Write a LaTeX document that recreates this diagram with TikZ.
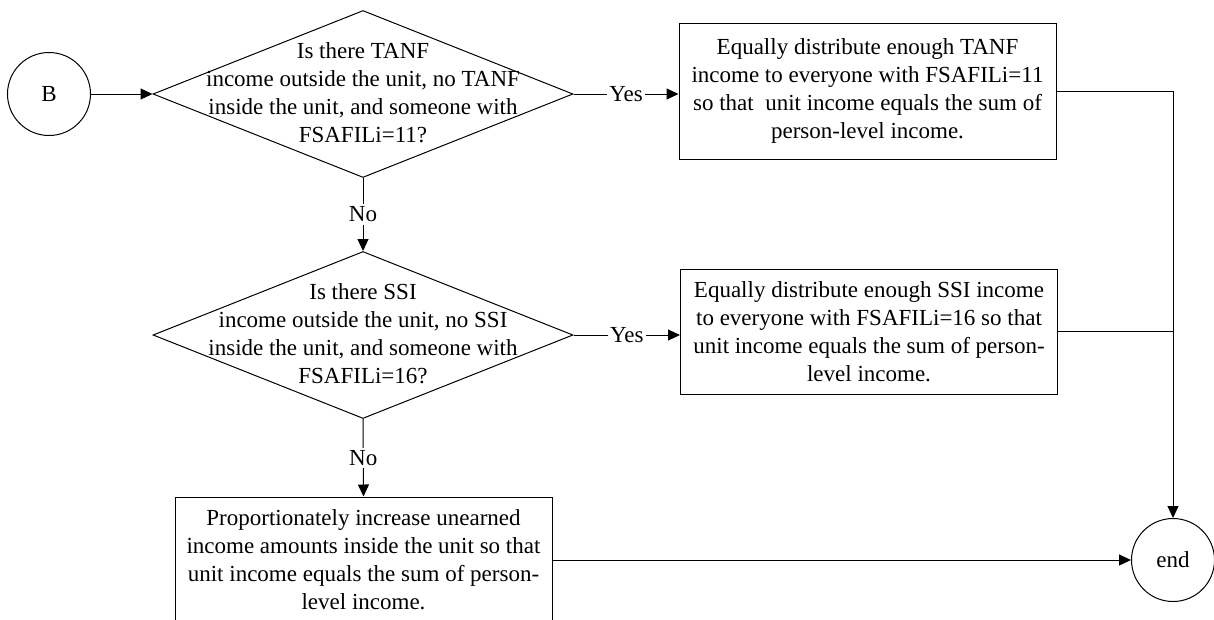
\documentclass[tikz,border=0pt]{standalone}
\usepackage{fontspec}
\setmainfont{Liberation Serif}
\usetikzlibrary{shapes.geometric,arrows.meta}

\begin{document}
\begin{tikzpicture}[x=1pt,y=-1pt,
  every node/.style={font=\fontsize{23}{28}\selectfont},
  conn/.style={line width=1pt},
  arr/.style={conn,-{Triangle[length=12pt,width=11pt]}},
  terminal/.style={draw,circle,line width=1pt,minimum size=83pt,inner sep=0pt},
  decision/.style={draw,diamond,line width=1pt,minimum width=420pt,minimum height=167pt,inner sep=0pt},
  qtext/.style={align=center,inner sep=0pt},
  action/.style={draw,rectangle,line width=1pt,minimum width=377pt,align=center,inner sep=0pt},
  lbl/.style={fill=white,inner sep=2.5pt}
]
\useasboundingbox (0,0) rectangle (1214,619);
\clip (0,0) rectangle (1214,619);

% start and end terminals
\node[terminal] (B) at (49,94) {B};
\node[terminal] (end) at (1173,560) {end};

% first decision: TANF
\node[decision] (d1) at (363,94) {};
\node[qtext] (d1t) at (363,93) {Is there TANF\\income outside the unit, no TANF\\inside the unit, and someone with\\FSAFILi=11?};

% second decision: SSI
\node[decision] (d2) at (363,335) {};
\node[qtext] (d2t) at (363,334) {Is there SSI\\income outside the unit, no SSI\\inside the unit, and someone with\\FSAFILi=16?};

% actions
\node[action,minimum height=136pt] (b1) at (867.5,91)
  {Equally distribute enough TANF\\income to everyone with FSAFILi=11\\so that\ \ unit income equals the sum of\\person-level income.};
\node[action,minimum height=125pt] (b2) at (869,331.5)
  {Equally distribute enough SSI income\\to everyone with FSAFILi=16 so that\\unit income equals the sum of person-\\level income.};
\node[action,minimum height=126pt] (b3) at (363.5,560)
  {Proportionately increase unearned\\income amounts inside the unit so that\\unit income equals the sum of person-\\level income.};

% junction points on the collector line
\coordinate (j1) at (end.north |- b1.east);
\coordinate (j2) at (end.north |- b2.east);

% connectors
\draw[arr] (B) -- (d1.west);
\draw[arr] (d1.east) -- node[lbl] {Yes} (d1.east -| b1.west);
\draw[arr] (d1.south) -- node[lbl] {No} (d2.north);
\draw[arr] (d2.east) -- node[lbl] {Yes} (d2.east -| b2.west);
\draw[arr] (d2.south) -- node[lbl] {No} (b3.north);
\draw[arr] (b1.east) -- (j1) -- (end.north);
\draw[conn] (b2.east) -- (j2);
\draw[arr] (b3.east) -- (end.west);
\end{tikzpicture}
\end{document}
